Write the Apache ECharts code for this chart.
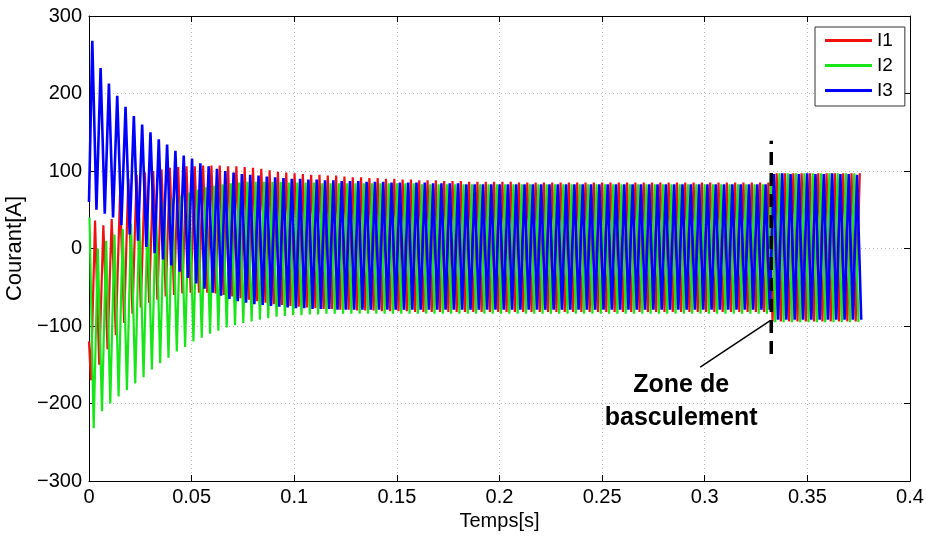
<!DOCTYPE html>
<html>
<head>
<meta charset="utf-8">
<script src="https://cdn.jsdelivr.net/npm/echarts@6/dist/echarts.min.js"></script>
<style>
html,body{margin:0;padding:0;background:#fff;}
#chart{width:926px;height:536px;}
</style>
</head>
<body>
<div id="chart"></div>
<script>
// ---- data ----
const seriesNames = ['I1', 'I2', 'I3'];
const seriesColors = ['#f01010', '#19e619', '#0000ff'];
const seriesWidths = [2.2, 2.2, 2.6];
const xTicks = [0, 0.05, 0.1, 0.15, 0.2, 0.25, 0.3, 0.35, 0.4];
const yTicks = [-300, -200, -100, 0, 100, 200, 300];

// time of the first I3 peak and the oscillation period (s)
const firstPeakTime = 0.0016;
const period = 0.00405;
// values at t = 0
const I1start = -120;
const I3start = 60;

// per-cycle peak (max) and trough (min) values, A
const I1max = [
  36, 30, 38, 70, 90, 95, 98, 100, 102, 104,
  105, 106, 106, 107, 107, 107, 106, 106, 105, 104,
  103, 101, 99, 98, 97, 96, 95, 95, 94, 94,
  93, 92, 92, 91, 91, 90, 90, 89, 89, 88,
  88, 88, 87, 87, 87, 86, 86, 86, 86, 86,
  86, 85, 85, 85, 85, 85, 85, 85, 85, 85,
  85, 85, 85, 85, 85, 85, 85, 85, 85, 85,
  85, 85, 85, 85, 85, 85, 85, 85, 85, 85,
  85, 85,
  97, 97, 97, 97, 97, 97, 97, 97, 97, 97, 97
];
const I1min = [
  -170, -150, -130, -112, -96, -84, -76, -70, -66, -62,
  -60, -58, -57, -57, -57, -58, -60, -62, -64, -66,
  -68, -70, -72, -73, -74, -75, -76, -77, -78, -78,
  -79, -79, -80, -80, -80, -81, -81, -81, -81, -82,
  -82, -82, -82, -82, -82, -82, -82, -82, -82, -82,
  -82, -82, -82, -82, -82, -82, -82, -82, -82, -82,
  -82, -82, -82, -82, -82, -82, -82, -82, -82, -82,
  -82, -82, -82, -82, -82, -82, -82, -82, -82, -82,
  -82, -82,
  -94, -94, -94, -94, -94, -94, -94, -94, -94, -94, -94
];
const I2max = [
  40, 0, 10, 18, 25, 32, 40, 47, 53, 59,
  64, 68, 72, 76, 79, 81, 83, 84, 85, 86,
  86, 86, 86, 86, 85, 85, 85, 85, 84, 84,
  84, 84, 84, 84, 84, 84, 84, 84, 84, 84,
  83, 83, 83, 83, 83, 83, 83, 83, 83, 83,
  83, 83, 83, 83, 83, 83, 83, 83, 83, 83,
  83, 83, 83, 83, 83, 83, 83, 83, 83, 83,
  83, 83, 83, 83, 83, 83, 83, 83, 83, 83,
  83, 83,
  97, 97, 97, 97, 97, 97, 97, 97, 97, 97, 97
];
const I2min = [
  -232, -210, -200, -191, -183, -174, -166, -156, -148, -141,
  -133, -127, -120, -115, -110, -106, -102, -99, -96, -94,
  -92, -90, -88, -87, -86, -86, -85, -85, -84, -84,
  -84, -84, -84, -84, -84, -84, -84, -84, -84, -84,
  -84, -84, -84, -84, -84, -84, -84, -84, -84, -84,
  -84, -84, -84, -84, -84, -84, -84, -84, -84, -84,
  -84, -84, -84, -84, -84, -84, -84, -84, -84, -84,
  -84, -84, -84, -84, -84, -84, -84, -84, -84, -84,
  -84, -84,
  -95, -95, -95, -95, -95, -95, -95, -95, -95, -95, -95
];
const I3max = [
  268, 233, 213, 197, 183, 171, 160, 150, 141, 134,
  126, 120, 116, 110, 106, 103, 100, 98, 96, 95,
  94, 93, 92, 91, 90, 90, 89, 89, 88, 88,
  87, 87, 87, 86, 86, 86, 85, 85, 85, 85,
  85, 84, 84, 84, 84, 83, 83, 83, 83, 83,
  83, 83, 83, 83, 83, 83, 83, 83, 83, 83,
  83, 83, 83, 83, 83, 83, 83, 83, 83, 83,
  83, 83, 83, 83, 83, 83, 83, 83, 83, 83,
  83, 83,
  96, 97, 96, 96, 97, 96, 96, 97, 96, 96, 95
];
const I3min = [
  50, 45, 40, 30, 18, 10, 2, -6, -14, -22,
  -30, -38, -45, -52, -57, -61, -65, -68, -70, -72,
  -73, -74, -75, -76, -77, -77, -78, -78, -78, -79,
  -79, -79, -79, -79, -79, -79, -79, -79, -79, -79,
  -79, -79, -79, -79, -79, -79, -79, -79, -79, -79,
  -79, -79, -79, -79, -79, -79, -79, -79, -79, -79,
  -79, -79, -79, -79, -79, -79, -79, -79, -79, -79,
  -79, -79, -79, -79, -79, -79, -79, -79, -79, -79,
  -79, -79,
  -92, -92, -92, -92, -92, -92, -92, -92, -92, -92, -92
];

// annotation
const switchTime = 0.3324;
const switchLow = -136;
const switchHigh = 139;
const arrowFrom = [0.2978, -153];
const arrowTo = [0.3319, -93];
const noteText = 'Zone de\nbasculement';
const notePos = [0.2885, -198];

// ---- build the zig-zag waveforms from the peaks ----
function cycleTime(k) { return firstPeakTime + k * period; }
const d1 = [[0, I1start]], d2 = [], d3 = [[0, I3start]];
for (let k = 0; k < I3max.length; k++) {
  const t = cycleTime(k);
  d1.push([t - period / 6, I1min[k]], [t + period / 3, I1max[k]]);
  d2.push([t - period / 3, I2max[k]], [t + period / 6, I2min[k]]);
  d3.push([t, I3max[k]], [t + period / 2, I3min[k]]);
}
const waves = [d1, d2, d3];

const FONT = '"Liberation Sans", Arial, Helvetica, sans-serif';
const chart = echarts.init(document.getElementById('chart'), null, {renderer: 'canvas'});

const gridLine = {show: true, lineStyle: {color: '#b8b8b8', type: [1, 3], width: 1}};
const option = {
  animation: false,
  backgroundColor: '#ffffff',
  textStyle: {fontFamily: FONT},
  grid: {left: 89, right: 16, top: 16, bottom: 55, show: false,
    containLabel: false, outerBoundsMode: 'none'},
  legend: {
    data: seriesNames,
    orient: 'vertical',
    left: 815, top: 27,
    padding: [4, 12, 6, 10],
    icon: 'rect',
    itemWidth: 47, itemHeight: 3, itemGap: 6,
    backgroundColor: '#fff',
    borderColor: '#333', borderWidth: 1,
    textStyle: {fontFamily: FONT, fontSize: 19, color: '#000'}
  },
  xAxis: [{
    type: 'value', min: 0, max: 0.4, interval: 0.05,
    position: 'bottom',
    name: 'Temps[s]', nameLocation: 'middle', nameGap: 29,
    nameTextStyle: {fontFamily: FONT, fontSize: 20, color: '#000'},
    axisLine: {show: true, onZero: false, lineStyle: {color: '#000', width: 1}},
    axisTick: {show: true, inside: true, length: 6, lineStyle: {color: '#000'}},
    axisLabel: {fontFamily: FONT, fontSize: 20, color: '#000', margin: 6,
      formatter: v => String(+v.toFixed(3))},
    splitLine: gridLine
  }, {
    type: 'value', min: 0, max: 0.4, interval: 0.05, position: 'top',
    axisLine: {show: true, onZero: false, lineStyle: {color: '#000', width: 1}},
    axisTick: {show: true, inside: true, length: 6, lineStyle: {color: '#000'}},
    axisLabel: {show: false}, splitLine: {show: false}
  }],
  yAxis: [{
    type: 'value', min: -300, max: 300, interval: 100,
    position: 'left',
    name: 'Courant[A]', nameLocation: 'middle', nameGap: 59, nameRotate: 90,
    nameTextStyle: {fontFamily: FONT, fontSize: 22, color: '#000'},
    axisLine: {show: true, onZero: false, lineStyle: {color: '#000', width: 1}},
    axisTick: {show: true, inside: true, length: 6, lineStyle: {color: '#000'}},
    axisLabel: {fontFamily: FONT, fontSize: 20, color: '#000', margin: 7,
      formatter: v => String(v).replace('-', '\u2212')},
    splitLine: gridLine
  }, {
    type: 'value', min: -300, max: 300, interval: 100, position: 'right',
    axisLine: {show: true, onZero: false, lineStyle: {color: '#000', width: 1}},
    axisTick: {show: true, inside: true, length: 6, lineStyle: {color: '#000'}},
    axisLabel: {show: false}, splitLine: {show: false}
  }],
  series: seriesNames.map((name, i) => ({
    name: name,
    type: 'line',
    xAxisIndex: 0, yAxisIndex: 0,
    data: waves[i],
    showSymbol: false, symbol: 'none',
    color: seriesColors[i],
    lineStyle: {color: seriesColors[i], width: seriesWidths[i]},
    silent: true
  })).concat([{
    name: 'switch',
    type: 'line',
    data: [[switchTime, switchLow], [switchTime, switchHigh]],
    showSymbol: false, symbol: 'none',
    lineStyle: {color: '#000', width: 3.5, type: [13, 8]},
    silent: true,
    markLine: {
      silent: true,
      symbol: ['none', 'arrow'], symbolSize: [0, 12],
      lineStyle: {color: '#000', width: 1.5, type: 'solid'},
      label: {show: false},
      data: [[{coord: arrowFrom}, {coord: arrowTo}]]
    }
  }, {
    name: 'note',
    type: 'scatter',
    data: [notePos],
    symbolSize: 0,
    itemStyle: {opacity: 1},
    silent: true,
    label: {
      show: true, position: 'inside', formatter: noteText,
      fontFamily: FONT, fontWeight: 'bold', fontSize: 25, lineHeight: 33,
      color: '#000', opacity: 1, align: 'center'
    }
  }])
};
chart.setOption(option);
</script>
</body>
</html>
